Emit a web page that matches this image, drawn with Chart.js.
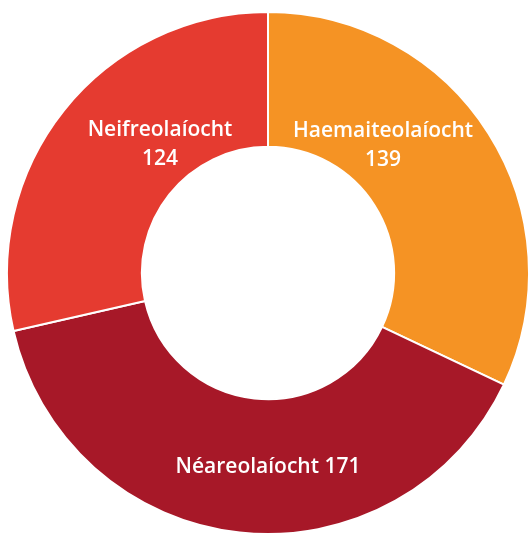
<!DOCTYPE html>
<html>
<head>
<meta charset="utf-8">
<script src="https://cdn.jsdelivr.net/npm/chart.js@4/dist/chart.umd.min.js"></script>
<style>
  html, body { margin: 0; padding: 0; background: #fff; overflow: hidden; }
  #wrap { position: absolute; left: -2px; top: 0; width: 540px; height: 546px; }
</style>
</head>
<body>
<div id="wrap"><canvas id="chart"></canvas></div>
<script>
const CATEGORIES = ["Haemaiteolaíocht", "Néareolaíocht", "Neifreolaíocht"];
const COUNTS = [139, 171, 124];
const COLORS = ["#F59324", "#A71828", "#E53B30"];

// where each label sits: angle clockwise from top (deg), distance from centre (px), split onto two lines?
const LABEL_SPOTS = [
  { angle: 42, dist: 172, twoLines: true },
  { angle: 180, dist: 194, twoLines: false },
  { angle: -40, dist: 168, twoLines: true },
];

const labelPlugin = {
  id: "sliceLabels",
  afterDatasetsDraw(chart) {
    const ctx = chart.ctx;
    const arcs = chart.getDatasetMeta(0).data;
    ctx.save();
    ctx.fillStyle = "#fff";
    ctx.font = "600 21px 'Open Sans', Roboto, sans-serif";
    ctx.textAlign = "center";
    ctx.textBaseline = "middle";
    arcs.forEach((arc, i) => {
      const spot = LABEL_SPOTS[i];
      const a = (spot.angle - 90) * Math.PI / 180;
      const x = arc.x + Math.cos(a) * spot.dist;
      const y = arc.y + Math.sin(a) * spot.dist;
      const name = CATEGORIES[i];
      const val = String(COUNTS[i]);
      if (spot.twoLines) {
        ctx.fillText(name, x, y - 14);
        ctx.fillText(val, x, y + 15);
      } else {
        ctx.fillText(name + " " + val, x, y);
      }
    });
    ctx.restore();
  },
};

new Chart(document.getElementById("chart"), {
  type: "doughnut",
  data: {
    labels: CATEGORIES,
    datasets: [{
      data: COUNTS,
      backgroundColor: COLORS,
      borderColor: "#fff",
      borderWidth: 2,
      hoverOffset: 0,
      radius: 261,
    }],
  },
  options: {
    responsive: true,
    maintainAspectRatio: false,
    animation: false,
    cutout: 130,
    layout: { padding: 0 },
    plugins: {
      legend: { display: false },
      tooltip: { enabled: false },
    },
  },
  plugins: [labelPlugin],
});
</script>
</body>
</html>
